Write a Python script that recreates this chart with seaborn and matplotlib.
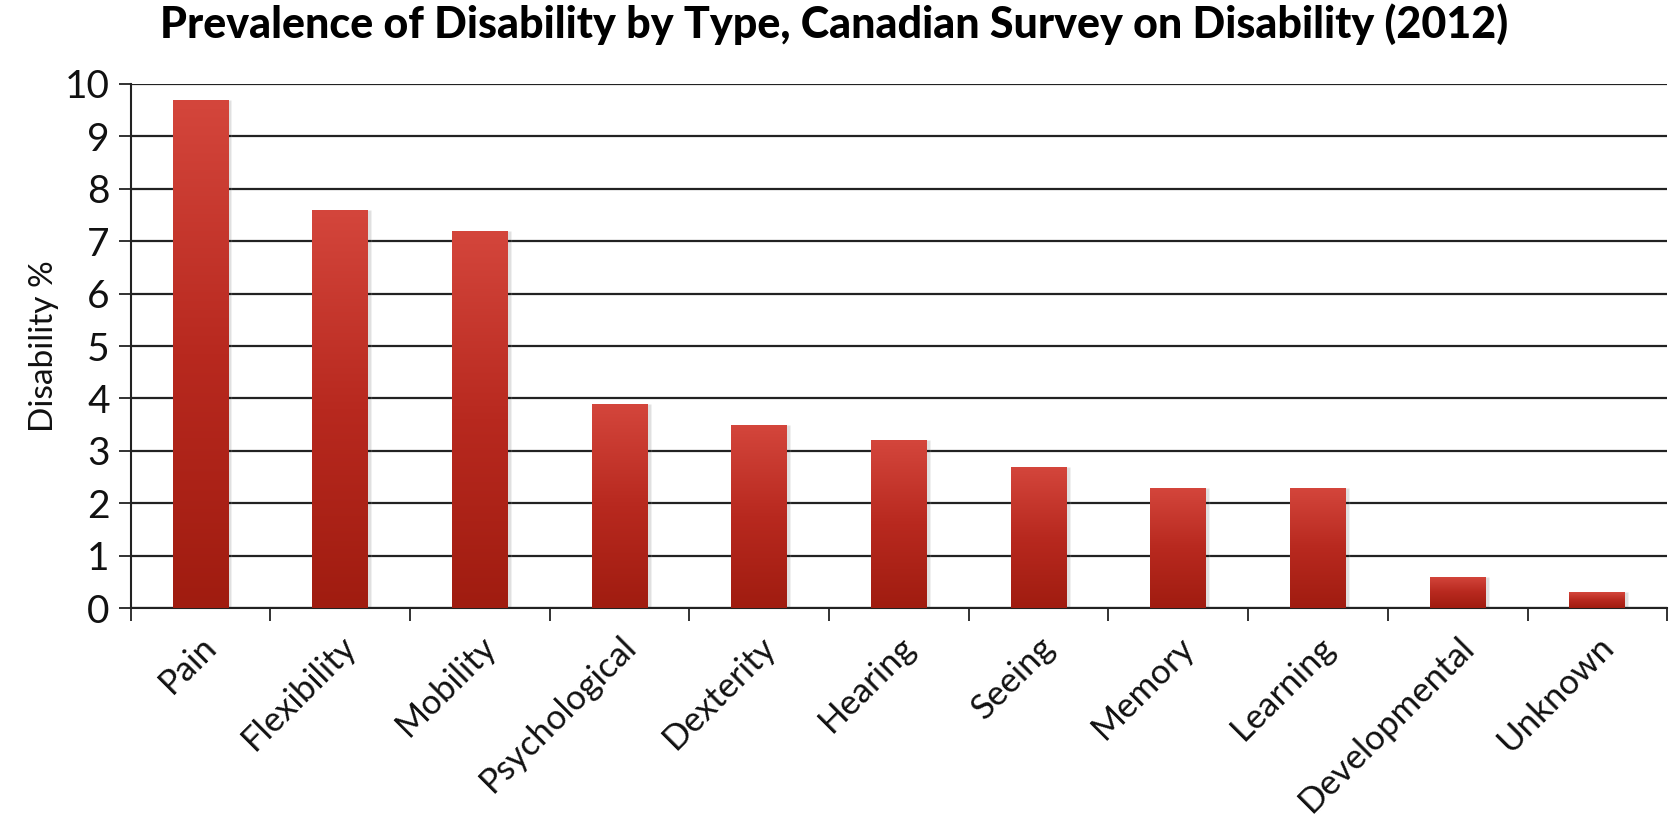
import numpy as np
import pandas as pd
import matplotlib
matplotlib.use("Agg")
import matplotlib.pyplot as plt
import seaborn as sns
from matplotlib.colors import LinearSegmentedColormap

categories = ["Pain", "Flexibility", "Mobility", "Psychological", "Dexterity",
              "Hearing", "Seeing", "Memory", "Learning", "Developmental", "Unknown"]
values = [9.7, 7.6, 7.2, 3.9, 3.5, 3.2, 2.7, 2.3, 2.3, 0.6, 0.3]
yticks = [0, 1, 2, 3, 4, 5, 6, 7, 8, 9, 10]
title = "Prevalence of Disability by Type, Canadian Survey on Disability (2012)"
ylabel = "Disability %"

sns.set_theme(style="white")
plt.rcParams["font.family"] = ["Lato", "DejaVu Sans"]

df = pd.DataFrame({"type": categories, "value": values})

fig = plt.figure(figsize=(16.79, 8.21), dpi=100)
ax = fig.add_axes([0.0778, 0.2594, 0.9152, 0.6383])

sns.barplot(data=df, x="type", y="value", ax=ax, color="#b8281c",
            width=0.4, saturation=1, edgecolor="none", zorder=3)

ax.set_ylim(0, 10)
ax.set_xlim(-0.5, len(categories) - 0.5)
ax.set_yticks(yticks)
ax.set_yticklabels([str(t) for t in yticks], fontsize=28, color="#111111")
ax.yaxis.grid(True, color="#222222", linewidth=1.6, zorder=1)
ax.set_axisbelow(True)

# gradient overlay on each bar
cmap = LinearSegmentedColormap.from_list("g", ["#a01c10", "#b8291f", "#d4463c"])
grad = np.linspace(0, 1, 256).reshape(-1, 1)
for p in list(ax.patches):
    x0, y0 = p.get_x(), p.get_y()
    w, h = p.get_width(), p.get_height()
    # soft shadow
    ax.bar(x0 + w / 2 + 0.012, h, width=w + 0.02, bottom=0, color="#000000",
           alpha=0.12, zorder=2.5)
    im = ax.imshow(grad, cmap=cmap, aspect="auto", origin="lower",
                   extent=(x0, x0 + w, y0, y0 + h), zorder=4)
    im.set_clip_path(p)
ax.set_xlim(-0.5, len(categories) - 0.5)
ax.set_ylim(0, 10)

ax.set_xticks(range(len(categories)))
ax.set_xticklabels(categories, rotation=45, ha="right", rotation_mode="anchor",
                   fontsize=25, color="#111111")
ax.tick_params(axis="x", which="major", length=0, pad=16)
ax.set_xticks(np.arange(-0.5, len(categories), 1.0), minor=True)
ax.tick_params(axis="x", which="minor", length=9, width=1.3, color="#222222",
               direction="out", bottom=True)
ax.tick_params(axis="y", length=9, width=1.3, color="#222222", direction="out",
               left=True, pad=6)

for s in ["top", "right"]:
    ax.spines[s].set_visible(False)
for s in ["left", "bottom"]:
    ax.spines[s].set_color("#222222")
    ax.spines[s].set_linewidth(1.5)

ax.set_xlabel("")
ax.set_ylabel(ylabel, fontsize=24, color="#111111", labelpad=4)

fig.text(0.497, 0.971, title, ha="center", va="center", fontsize=31,
         fontweight="black", color="#000000")

fig.savefig("out.png", dpi=100, facecolor="white")
